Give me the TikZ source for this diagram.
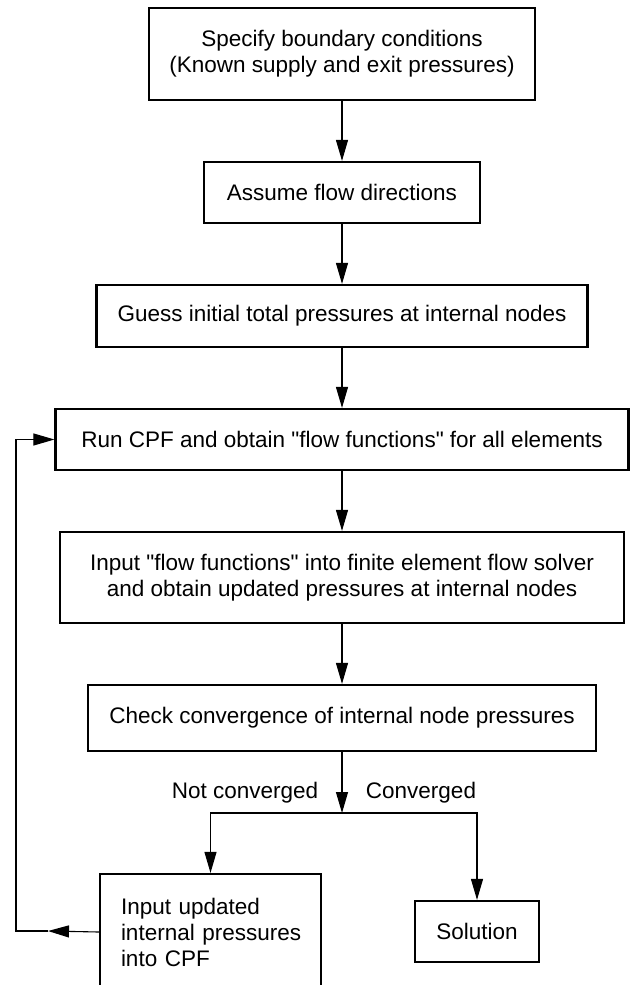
\documentclass[tikz,border=0pt]{standalone}
\usepackage{fontspec}
\setmainfont{Liberation Sans}
\usetikzlibrary{arrows.meta}
\begin{document}
\begin{tikzpicture}[x=1pt,y=-1pt,
  box/.style={draw,line width=2.2pt,inner sep=0pt,align=center,font=\fontsize{22.5}{26}\selectfont},
  conn/.style={line width=1.1pt},
  arr/.style={conn,-{Triangle[length=21pt,width=12pt]}},
  lbl/.style={font=\fontsize{22.5}{26}\selectfont,inner sep=0pt}]
\useasboundingbox (0,0) rectangle (630,985);
\node[box,minimum width=386pt,minimum height=92pt] (b1) at (342,54)
  {Specify boundary conditions\\(Known supply and exit pressures)};
\node[box,minimum width=276pt,minimum height=61pt] (b2) at (342,192.5)
  {Assume flow directions};
\node[box,minimum width=491pt,minimum height=62pt] (b3) at (342,316)
  {Guess initial total pressures at internal nodes};
\node[box,minimum width=573pt,minimum height=61pt] (b4) at (342,439.5)
  {Run CPF and obtain \textquotedbl flow functions\textquotedbl\ for all elements};
\node[box,minimum width=564pt,minimum height=91pt] (b5) at (342,577.5)
  {Input \textquotedbl flow functions\textquotedbl\ into finite element flow solver\\and obtain updated pressures at internal nodes};
\node[box,minimum width=221pt,minimum height=116pt,align=left,text width=189pt,inner xsep=16pt] (b7) at (210.5,932)
  {\hspace*{5pt}Input updated\\\hspace*{5pt}internal pressures\\\hspace*{5pt}into CPF};
\node[box,minimum width=508pt,minimum height=66pt] (b6) at (342,718)
  {Check convergence of internal node pressures};
\node[box,minimum width=124pt,minimum height=61pt] (b8) at (477,931.5)
  {Solution};
\coordinate (split) at (342,813);
\coordinate (corner) at (16,931);
\coordinate (mid) at (48,931);
\node[lbl] (nc) at (245,793) {Not converged};
\node[lbl] (cv) at (421,793) {Converged};
\draw[arr] (b1) -- (b2);
\draw[arr] (b2) -- (b3);
\draw[arr] (b3) -- (b4);
\draw[arr] (b4) -- (b5);
\draw[arr] (b5) -- (b6);
\draw[arr] (b6) -- (split);
\draw[arr] (split) -| (b7.north);
\draw[arr] (split) -| (b8.north);
\draw[arr] (b7.west) -- (mid);
\draw[arr] (mid) -- (corner) |- (b4.west);
\end{tikzpicture}
\end{document}
